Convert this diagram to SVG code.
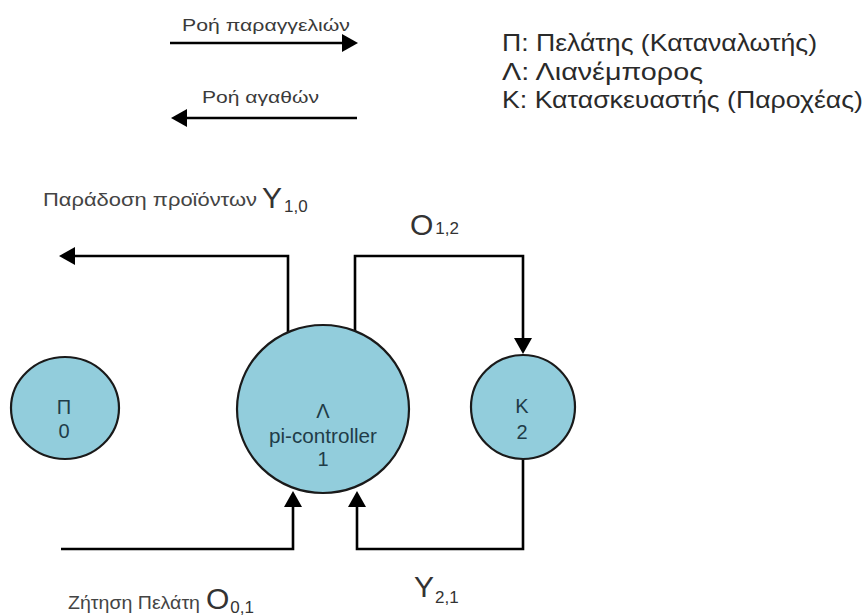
<svg xmlns="http://www.w3.org/2000/svg" width="865" height="616" viewBox="0 0 865 616">
<defs>
<style>
.txt{font-family:"Liberation Sans",Arial,"DejaVu Sans",sans-serif;fill:#333}
.leg{font-size:24px;fill:#2a2a2a}
.small{font-size:17px;fill:#3a3a3a}
.lbl{font-size:19px;fill:#444}
.big{font-size:30px;fill:#333}
.sub{font-size:17px;fill:#333}
.node{fill:#92CDDC;stroke:#1a1a1a;stroke-width:2.2}
.ntxt{font-family:"Liberation Sans",Arial,sans-serif;font-size:20px;fill:#1f3c48;text-anchor:middle}
.conn{fill:none;stroke:#000;stroke-width:2.6}
</style>
<marker id="ah" markerUnits="userSpaceOnUse" markerWidth="17" markerHeight="18" refX="1" refY="9" orient="auto">
<path d="M0,0 L16,9 L0,18 z" fill="#000"/>
</marker>
</defs>
<rect width="865" height="616" fill="#fff"/>

<g id="legend">
<text class="txt small" x="182" y="31" textLength="168" lengthAdjust="spacingAndGlyphs">Ροή παραγγελιών</text>
<text class="txt small" x="202" y="103" textLength="117" lengthAdjust="spacingAndGlyphs">Ροή αγαθών</text>
<text class="txt leg" x="502" y="51" textLength="315" lengthAdjust="spacingAndGlyphs">Π: Πελάτης (Καταναλωτής)</text>
<text class="txt leg" x="502" y="80" textLength="201" lengthAdjust="spacingAndGlyphs">Λ: Λιανέμπορος</text>
<text class="txt leg" x="502" y="108" textLength="361" lengthAdjust="spacingAndGlyphs">Κ: Κατασκευαστής (Παροχέας)</text>
</g>

<g id="connectors">
<path class="conn" d="M170,43 H343" marker-end="url(#ah)"/>
<path class="conn" d="M357,118 H186" marker-end="url(#ah)"/>
<path class="conn" d="M288,332 V256 H74" marker-end="url(#ah)"/>
<path class="conn" d="M355,331 V256 H523 V339" marker-end="url(#ah)"/>
<path class="conn" d="M61,549 H293 V506" marker-end="url(#ah)"/>
<path class="conn" d="M523,459 V549 H357 V506" marker-end="url(#ah)"/>
</g>

<g id="labels">
<text class="txt lbl" x="43" y="206" textLength="214" lengthAdjust="spacingAndGlyphs">Παράδοση προϊόντων</text>
<text class="txt big" x="262" y="208">Y<tspan class="sub" dx="2" dy="4">1,0</tspan></text>
<text class="txt big" x="410" y="235">O<tspan class="sub" dx="2" dy="-1">1,2</tspan></text>
<text class="txt lbl" x="68" y="609" textLength="132" lengthAdjust="spacingAndGlyphs">Ζήτηση Πελάτη</text>
<text class="txt big" x="206" y="609">O<tspan class="sub" dx="1" dy="4">0,1</tspan></text>
<text class="txt big" x="414" y="597">Y<tspan class="sub" dx="1" dy="6">2,1</tspan></text>
</g>

<g id="node-P">
<ellipse class="node" cx="65" cy="408" rx="54" ry="51"/>
<text class="ntxt" x="64" y="414">Π</text>
<text class="ntxt" x="64" y="438">0</text>
</g>

<g id="node-L">
<ellipse class="node" cx="323" cy="409" rx="86" ry="84"/>
<text class="ntxt" x="323" y="418">Λ</text>
<text class="ntxt" x="323" y="443" textLength="108" lengthAdjust="spacingAndGlyphs">pi-controller</text>
<text class="ntxt" x="323" y="466">1</text>
</g>

<g id="node-K">
<ellipse class="node" cx="523" cy="407" rx="52" ry="52"/>
<text class="ntxt" x="522" y="413">Κ</text>
<text class="ntxt" x="522" y="439">2</text>
</g>
</svg>
